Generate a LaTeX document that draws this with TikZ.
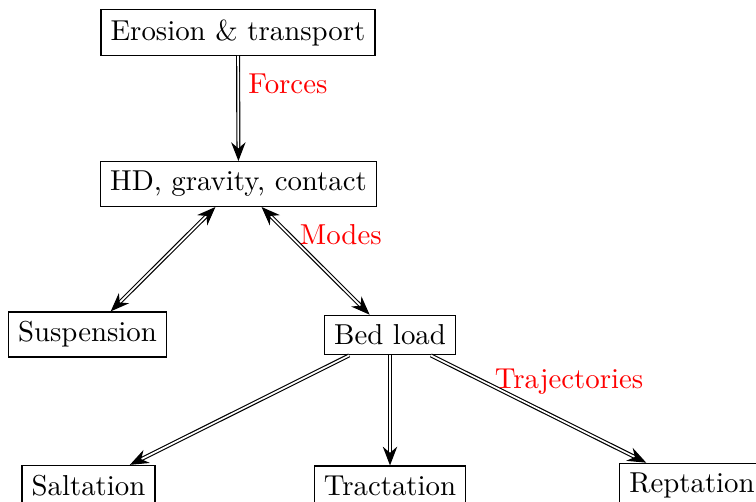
\documentclass[tikz,border=0pt]{standalone}
\usetikzlibrary{arrows.meta}
\begin{document}
\begin{tikzpicture}[x=0.347pt,y=-0.347pt,
  box/.style={draw,fill=white},
  tip/.tip={Stealth[length=6.5pt,width=5pt]},
  link/.style={double,-tip},
  biLink/.style={double,tip-tip},
  lab/.style={text=red,anchor=west}]
\useasboundingbox (0,0) rectangle (756,501);
\node[box] (er) at (238,32.5) {Erosion \& transport};
\node[box] (hd) at (238.5,184) {HD, gravity, contact};
\node[box] (su) at (87.5,334.5) {Suspension};
\node[box] (bl) at (390,335) {Bed load};
\node[box] (sa) at (88.5,485.5) {Saltation};
\node[box] (tr) at (390,485.5) {Tractation};
\node[box] (re) at (692,485.5) {Reptation};
\draw[link] (er) -- node[lab,pos=0.27] {Forces} (hd);
\draw[biLink] (hd) -- (su);
\draw[biLink] (hd) -- node[lab,pos=0.26] {Modes} (bl);
\draw[link] (bl) -- (sa);
\draw[link] (bl) -- (tr);
\draw[link] (bl) -- node[lab,pos=0.25] {Trajectories} (re);
\end{tikzpicture}
\end{document}
